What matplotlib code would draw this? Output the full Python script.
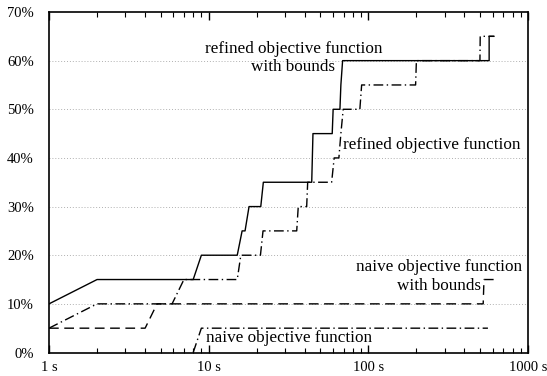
import matplotlib
matplotlib.use("Agg")
import matplotlib.pyplot as plt
from matplotlib.ticker import LogLocator, NullFormatter, FixedLocator

plt.rcParams['font.family'] = ['Liberation Serif', 'DejaVu Serif']

# refined objective function with bounds (solid)
rb_t = [1, 2, 8.0, 9.0, 15.1, 16.2, 16.9, 17.9, 21.2, 22.0, 44.2, 45.0, 59.4, 60.2, 66.4, 67.3, 69.0, 571, 571, 612]
rb_y = [10, 15, 15, 20, 20, 25, 25, 30, 30, 35, 35, 45, 45, 50, 50, 55, 60, 60, 65, 65]

# refined objective function (dash-dot)
rf_t = [1, 2, 5.9, 7.0, 15.1, 15.9, 21.1, 21.9, 35.6, 36.4, 41.1, 41.7, 58.9, 61.1, 65.4, 67.3, 69.6, 88.5, 90.8, 197.7, 200, 500, 502, 612]
rf_y = [5, 10, 10, 15, 15, 20, 20, 25, 25, 30, 30, 35, 35, 40, 40, 45, 50, 50, 55, 55, 60, 60, 65, 65]

# naive objective function with bounds (dashed)
nb_t = [1, 4.0, 4.75, 524, 530, 612]
nb_y = [5, 5, 10, 10, 15, 15]

# naive objective function (dash-dot)
nf_t = [8.0, 9.0, 561]
nf_y = [0, 5, 5]

xticks = [1, 10, 100, 1000]
xtick_labels = ["1 s", "10 s", "100 s", "1000 s"]
yticks = [0, 10, 20, 30, 40, 50, 60, 70]
ytick_labels = ["0%", "10%", "20%", "30%", "40%", "50%", "60%", "70%"]

fig = plt.figure(figsize=(5.47, 3.76), dpi=100)
ax = fig.add_axes([49/547, 1-352.5/376, (528-49)/547, (352.5-12)/376])

dashdot = (0, (7, 2.5, 1, 2.5))
ax.plot(rb_t, rb_y, color='black', lw=1.0, linestyle='-')
ax.plot(rf_t, rf_y, color='black', lw=1.0, linestyle=dashdot)
ax.plot(nb_t, nb_y, color='black', lw=1.0, linestyle=(0, (7, 4)))
ax.plot(nf_t, nf_y, color='black', lw=1.0, linestyle=dashdot)

ax.set_xscale('log')
ax.set_xlim(1, 1000)
ax.set_ylim(0, 70)

ax.xaxis.set_major_locator(FixedLocator(xticks))
ax.set_xticklabels(xtick_labels)
ax.xaxis.set_minor_locator(LogLocator(base=10, subs=range(2, 10)))
ax.xaxis.set_minor_formatter(NullFormatter())
ax.tick_params(axis='x', which='major', direction='in', length=6, width=1, top=True, labelsize=10.5, pad=6)
ax.tick_params(axis='x', which='minor', direction='in', length=3.5, width=0.8, top=True)

ax.set_yticks(yticks)
ax.set_yticklabels(ytick_labels)
ax.tick_params(axis='y', which='both', length=0, labelsize=10.5, pad=11)

for v in yticks[1:-1]:
    ax.axhline(v, color='#b0b0b0', lw=0.7, linestyle=(0, (1, 2)), zorder=0)

for s in ax.spines.values():
    s.set_linewidth(1.2)

fs = 12.3
ax.text(10**((293.5-49)/159.7), (352.5-58)/4.864, "refined objective function\nwith bounds",
        ha='center', va='center', fontsize=fs, linespacing=1.2)
ax.text(10**((343-49)/159.7), (352.5-145)/4.864, "refined objective function",
        ha='left', va='center', fontsize=fs)
ax.text(10**((439.5-49)/159.7), (352.5-276.5)/4.864, "naive objective function\nwith bounds",
        ha='center', va='center', fontsize=fs, linespacing=1.2)
ax.text(10**((289-49)/159.7), (352.5-338.3)/4.864, "naive objective function",
        ha='center', va='center', fontsize=fs)

fig.savefig("out.png", dpi=100)
